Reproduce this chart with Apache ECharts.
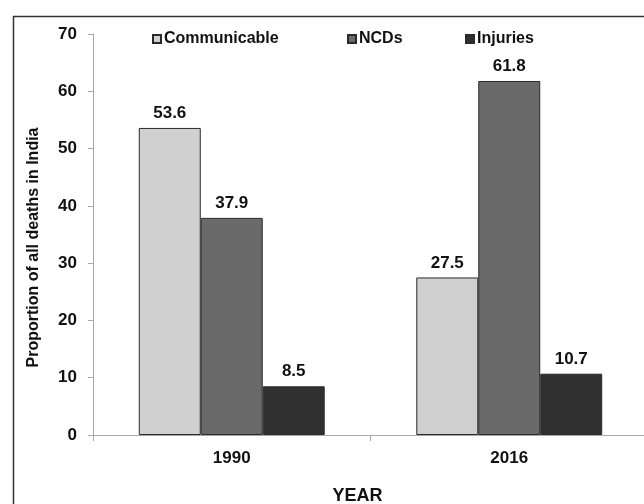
<!DOCTYPE html>
<html>
<head>
<meta charset="utf-8">
<script src="https://cdn.jsdelivr.net/npm/echarts@6/dist/echarts.min.js"></script>
<style>
  html, body { margin: 0; padding: 0; background: #fff; }
  #chart { width: 644px; height: 504px; }
</style>
</head>
<body>
<div id="chart"></div>
<script>
// Share of all deaths in India by cause group
const years = ['1990', '2016'];
const communicable = [53.6, 27.5];
const ncds = [37.9, 61.8];
const injuries = [8.5, 10.7];
const yTicks = [0, 10, 20, 30, 40, 50, 60, 70];

const FONT = '"Liberation Sans", Arial, sans-serif';
const INK = '#111';

function barSeries(name, data, color) {
  return {
    name: name,
    type: 'bar',
    data: data,
    barGap: '0%',
    barCategoryGap: '33%',
    itemStyle: { color: color, borderColor: '#2a2a2a', borderWidth: 1 },
    label: {
      show: true,
      position: 'top',
      distance: 6,
      color: INK,
      fontFamily: FONT,
      fontWeight: 'bold',
      fontSize: 17,
      formatter: p => p.value.toFixed(1)
    }
  };
}

// one legend block per series so each entry sits at its own spot
function legendAt(name, left) {
  return {
    top: 31,
    left: left,
    padding: 0,
    itemWidth: 8,
    itemHeight: 8,
    icon: 'rect',
    textStyle: { fontFamily: FONT, fontWeight: 'bold', fontSize: 16, color: INK, padding: [0, 0, 0, -2] },
    data: [name]
  };
}

const chart = echarts.init(document.getElementById('chart'), null, { renderer: 'canvas' });
chart.setOption({
  animation: false,
  backgroundColor: '#fff',
  graphic: [{
    type: 'rect',
    shape: { x: 13.5, y: 16.5, width: 700, height: 600 },
    style: { fill: 'none', stroke: '#333', lineWidth: 1.5 },
    silent: true,
    z: -1
  }],
  legend: [
    legendAt('Communicable', 152),
    legendAt('NCDs', 347),
    legendAt('Injuries', 465)
  ],
  // the plot runs a little past the right edge of the frame
  grid: { left: 93, top: 34, width: 555, height: 401, containLabel: false, outerBoundsMode: 'none' },
  xAxis: {
    type: 'category',
    data: years,
    name: 'YEAR',
    nameLocation: 'middle',
    nameGap: 52,
    nameTextStyle: { fontFamily: FONT, fontWeight: 'bold', fontSize: 18, color: INK, padding: [0, 26, 0, 0] },
    axisLine: { lineStyle: { color: '#a8a8a8', width: 1 } },
    axisTick: { show: true, length: 6, lineStyle: { color: '#a8a8a8' } },
    axisLabel: { margin: 15, fontFamily: FONT, fontWeight: 'bold', fontSize: 17, color: INK }
  },
  yAxis: {
    type: 'value',
    min: yTicks[0],
    max: yTicks[yTicks.length - 1],
    interval: 10,
    name: 'Proportion of all deaths in India',
    nameLocation: 'middle',
    nameGap: 51,
    nameTextStyle: { fontFamily: FONT, fontWeight: 'bold', fontSize: 16, color: INK, padding: [0, 26, 0, 0] },
    axisLine: { show: true, lineStyle: { color: '#a8a8a8', width: 1 } },
    axisTick: { show: true, length: 5, lineStyle: { color: '#a8a8a8' } },
    axisLabel: { margin: 16, fontFamily: FONT, fontWeight: 'bold', fontSize: 17, color: INK },
    splitLine: { show: false }
  },
  series: [
    barSeries('Communicable', communicable, '#d0d0d0'),
    barSeries('NCDs', ncds, '#6a6a6a'),
    barSeries('Injuries', injuries, '#303030')
  ]
});
</script>
</body>
</html>
